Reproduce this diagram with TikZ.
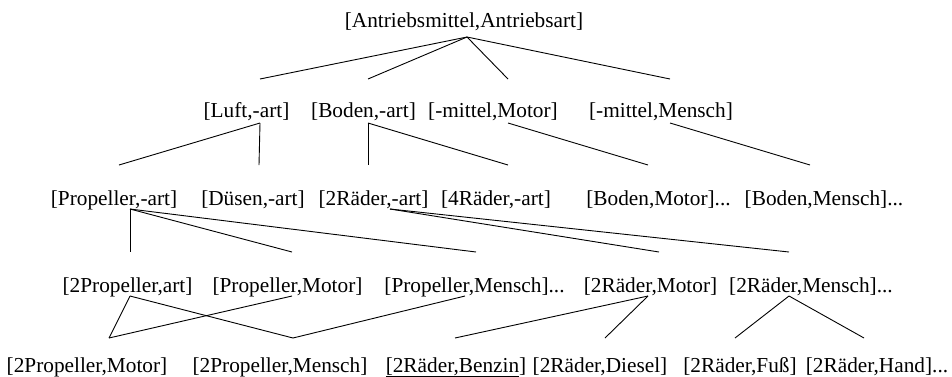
\documentclass[tikz,border=0pt]{standalone}
\usepackage{fontspec}
\setmainfont{Liberation Serif}
\usepackage{tikz}
\usetikzlibrary{positioning}

\begin{document}
\begin{tikzpicture}[x=1pt,y=-1pt,line width=0.9pt,
  begriff/.style={anchor=base,inner sep=0pt,font=\fontsize{21.3}{24}\selectfont}]
  \useasboundingbox (0,0) rectangle (952,376);

  % Ebene 0
  \node[begriff] (root) at (464,27) {[Antriebsmittel,Antriebsart]};

  % Ebene 1
  \node[begriff] (luft)    at (246.5,117) {[Luft,-art]};
  \node[begriff] (boden)   at (363.5,117) {[Boden,-art]};
  \node[begriff] (mmotor)  at (493,117)   {[-mittel,Motor]};
  \node[begriff] (mmensch) at (661,117)   {[-mittel,Mensch]};

  % Ebene 2
  \node[begriff] (propart)   at (114,205)   {[Propeller,-art]};
  \node[begriff] (duesen)    at (253,205)   {[Düsen,-art]};
  \node[begriff] (zweiart)   at (373.5,205) {[2Räder,-art]};
  \node[begriff] (vierart)   at (496,205)   {[4Räder,-art]};
  \node[begriff] (bodmotor)  at (658.5,205) {[Boden,Motor]...};
  \node[begriff] (bodmensch) at (824,205)   {[Boden,Mensch]...};

  % Ebene 3
  \node[begriff] (zprop)      at (127.5,292) {[2Propeller,art]};
  \node[begriff] (propmotor)  at (287.5,292) {[Propeller,Motor]};
  \node[begriff] (propmensch) at (474.5,292) {[Propeller,Mensch]...};
  \node[begriff] (zrmotor)    at (650.5,292) {[2Räder,Motor]};
  \node[begriff] (zrmensch)   at (811,292)   {[2Räder,Mensch]...};

  % Ebene 4
  \node[begriff] (zpmotor)  at (87,372)  {[2Propeller,Motor]};
  \node[begriff] (zpmensch) at (280,372) {[2Propeller,Mensch]};
  \node[begriff] (benzin)   at (456,372) {\underline{[2Räder,Benzin}]};
  \node[begriff] (diesel)   at (600,372) {[2Räder,Diesel]};
  \node[begriff] (fuss)     at (740,372) {[2Räder,Fuß]};
  \node[begriff] (hand)     at (877,372) {[2Räder,Hand]...};

  % Anschlusspunkte der Linien
  \coordinate (root-u)    at (467,37);
  \coordinate (luft-o)    at (260,79);  \coordinate (luft-u)    at (260,123);
  \coordinate (boden-o)   at (368,79);  \coordinate (boden-u)   at (368,123);
  \coordinate (mmotor-o)  at (508,79);  \coordinate (mmotor-u)  at (508,123);
  \coordinate (mmensch-o) at (670,79);  \coordinate (mmensch-u) at (670,123);
  \coordinate (propart-o)   at (119,165); \coordinate (propart-u) at (130,209);
  \coordinate (duesen-o)    at (259,165);
  \coordinate (zweiart-o)   at (368,165); \coordinate (zweiart-u) at (390,209);
  \coordinate (vierart-o)   at (508,165);
  \coordinate (bodmotor-o)  at (648,165);
  \coordinate (bodmensch-o) at (810,165);
  \coordinate (zprop-o)      at (130,252); \coordinate (zprop-u)      at (130,296);
  \coordinate (propmotor-o)  at (292,252); \coordinate (propmotor-u)  at (292,296);
  \coordinate (propmensch-o) at (476,252); \coordinate (propmensch-u) at (465,296);
  \coordinate (zrmotor-o)    at (659,252); \coordinate (zrmotor-u)    at (648,296);
  \coordinate (zrmensch-o)   at (789,252); \coordinate (zrmensch-u)   at (789,296);
  \coordinate (zpmotor-o)  at (109,338);
  \coordinate (zpmensch-o) at (293,338);
  \coordinate (benzin-o)   at (455,338);
  \coordinate (diesel-o)   at (605,338);
  \coordinate (fuss-o)     at (735,338);
  \coordinate (hand-o)     at (864,338);

  \path[draw]
    (root-u) edge (luft-o)
    (root-u) edge (boden-o)
    (root-u) edge (mmotor-o)
    (root-u) edge (mmensch-o)
    (luft-u) edge (propart-o)
    (luft-u) edge (duesen-o)
    (boden-u) edge (zweiart-o)
    (boden-u) edge (vierart-o)
    (mmotor-u) edge (bodmotor-o)
    (mmensch-u) edge (bodmensch-o)
    (propart-u) edge (zprop-o)
    (propart-u) edge (propmotor-o)
    (propart-u) edge (propmensch-o)
    (zweiart-u) edge (zrmotor-o)
    (zweiart-u) edge (zrmensch-o)
    (zprop-u) edge (zpmotor-o)
    (zprop-u) edge (zpmensch-o)
    (propmotor-u) edge (zpmotor-o)
    (propmensch-u) edge (zpmensch-o)
    (zrmotor-u) edge (benzin-o)
    (zrmotor-u) edge (diesel-o)
    (zrmensch-u) edge (fuss-o)
    (zrmensch-u) edge (hand-o);
\end{tikzpicture}
\end{document}
